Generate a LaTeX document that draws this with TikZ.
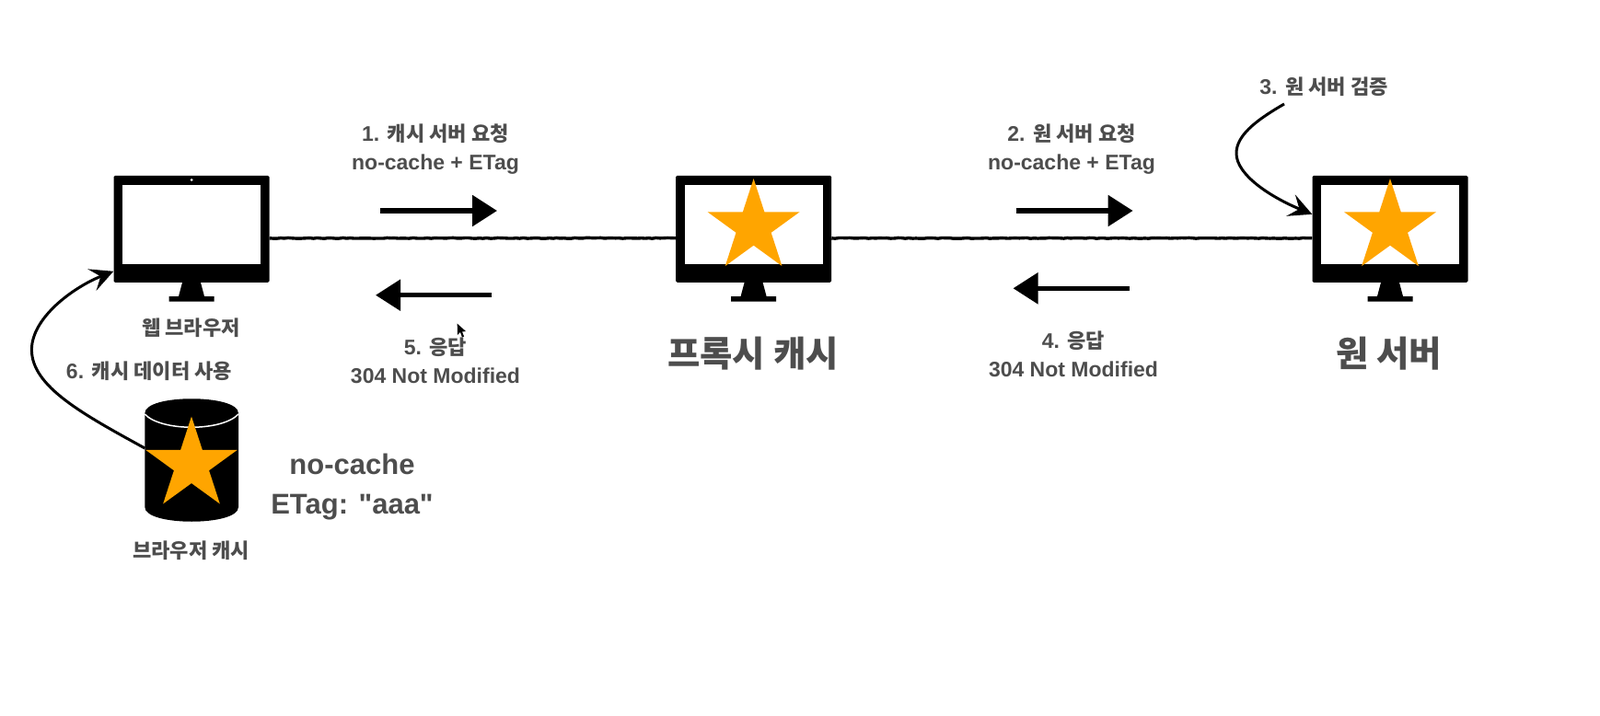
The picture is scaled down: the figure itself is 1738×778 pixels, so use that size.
\documentclass[tikz,border=0pt]{standalone}
\usepackage{fontspec}
\usepackage{xcolor}
\setmainfont{Liberation Sans}
\newfontfamily\kr[Scale=0.96]{Noto Sans CJK KR}
\newfontfamily\plainlatin{Liberation Sans}
\usetikzlibrary{arrows.meta,shapes.geometric,decorations.pathmorphing}

\definecolor{labelgray}{HTML}{4D4D4D}
\definecolor{staramber}{HTML}{FFA500}

\tikzset{
    monitorbody/.style={fill=black, rounded corners=1.5pt, minimum width=169pt, minimum height=116pt, inner sep=0pt},
    monitorscreen/.style={fill=white, minimum width=150pt, minimum height=86pt, inner sep=0pt},
    goldstar/.style={star, star points=5, star point ratio=2.618, fill=staramber, minimum size=105pt, inner sep=0pt},
    steplabel/.style={text=labelgray, align=center, inner sep=0pt, font=\fontsize{23}{31}\selectfont\bfseries},
    biglabel/.style={text=labelgray, align=center, inner sep=0pt, font=\fontsize{40}{48}\selectfont\bfseries},
    etaglabel/.style={text=labelgray, align=center, inner sep=0pt, font=\fontsize{31}{43}\selectfont\bfseries},
    wire/.style={line width=3.4pt, decorate, decoration={random steps, segment length=4pt, amplitude=.4pt}},
    flowarrow/.style={line width=5.4pt, -{Triangle[length=27pt, width=33pt]}},
    curvearrow/.style={line width=3pt, -{Stealth[length=25pt, width=25pt, inset=10pt]}}
}

\begin{document}
\begin{tikzpicture}[x=1pt, y=-1pt]
\useasboundingbox (0,0) rectangle (1738,778);

% the three monitors
\foreach \name/\x in {browser/208, proxy/818.6, server/1510} {
    \node[monitorbody] (\name) at (\x,248.8) {};
    \node[monitorscreen] (\name screen) at (\x,244) {};
    \fill ({\x-10},307) -- ({\x+10},307) -- ({\x+14},322) -- ({\x+24.5},322)
        -- ({\x+24.5},327.7) -- ({\x-24.5},327.7) -- ({\x-24.5},322) -- ({\x-14},322) -- cycle;
}
\fill[white] (208,195.5) circle (1.5pt);
\node[goldstar] (proxystar) at (818.6,246.6) {};
\node[goldstar] (serverstar) at (1510,246.6) {};

% browser cache
\fill (157.3,449) .. controls (157.3,428) and (259,428) .. (259,449)
    -- (259,551) .. controls (259,572) and (157.3,572) .. (157.3,551) -- cycle;
\draw[white, line width=1.5pt] (157.3,450) .. controls (175,469) and (241,469) .. (259,450);
\node[goldstar] (cachestar) at (208,505) {};
\coordinate (cacheside) at (157.3,487);

% connections
\draw[wire] ([yshift=-10pt]browser.east) -- ([yshift=-10pt]proxy.west);
\draw[wire] ([yshift=-10pt]proxy.east) -- ([yshift=-10pt]server.west);

\coordinate (reqonestart) at (413,229);
\coordinate (reqoneend) at (540,229);
\coordinate (resfivestart) at (534,320.7);
\coordinate (resfiveend) at (408,320.7);
\coordinate (reqtwostart) at (1103.7,229);
\coordinate (reqtwoend) at (1230.6,229);
\coordinate (resfourstart) at (1226.8,313.3);
\coordinate (resfourend) at (1100.5,313.3);
\draw[flowarrow] (reqonestart) -- (reqoneend);
\draw[flowarrow] (resfivestart) -- (resfiveend);
\draw[flowarrow] (reqtwostart) -- (reqtwoend);
\draw[flowarrow] (resfourstart) -- (resfourend);

\coordinate (checkstart) at (1395,113);
\coordinate (checkbend) at (1343,166.7);
\draw[curvearrow] (checkstart) .. controls (1362,132) and (1343,148) .. (checkbend)
    .. controls (1343,190) and (1380,214) .. ([yshift=16pt]server.west);
\coordinate (usebend) at (34.4,380);
\draw[curvearrow] (cacheside) .. controls (90,450) and (34.4,420) .. (usebend)
    .. controls (34.4,345) and (80,312) .. ([yshift=-46pt]browser.west);

% mouse pointer
\fill (496.7,351.7) -- (496.9,364) -- (500,361) -- (502,366.5) -- (504,365.5) -- (502,360.5) -- (506,360) -- cycle;

% labels
\node[steplabel] (reqone) at (473,162) {1. {\kr 캐시 서버 요청}\\no-cache + ETag};
\node[steplabel] (resfive) at (473,392) {5. {\kr 응답}\\304 Not Modified};
\node[steplabel] (reqtwo) at (1164,162) {2. {\kr 원 서버 요청}\\no-cache + ETag};
\node[steplabel] (resfour) at (1166,385) {4. {\kr 응답}\\304 Not Modified};
\node[steplabel] (check) at (1438,94) {3. {\kr 원 서버 검증}};
\node[steplabel] (browserlabel) at (207.6,356) {{\kr 웹 브라우저}};
\node[steplabel] (uselabel) at (162,403) {6. {\kr 캐시 데이터 사용}};
\node[steplabel] (cachelabel) at (207.6,598) {{\kr 브라우저 캐시}};
\node[biglabel] (proxylabel) at (818,384) {{\kr 프록시 캐시}};
\node[biglabel] (serverlabel) at (1508.7,384) {{\kr 원 서버}};
\node[etaglabel] (etagtext) at (382.5,529) {no-cache\\{\plainlatin ETag: "aaa"}};
\end{tikzpicture}
\end{document}
